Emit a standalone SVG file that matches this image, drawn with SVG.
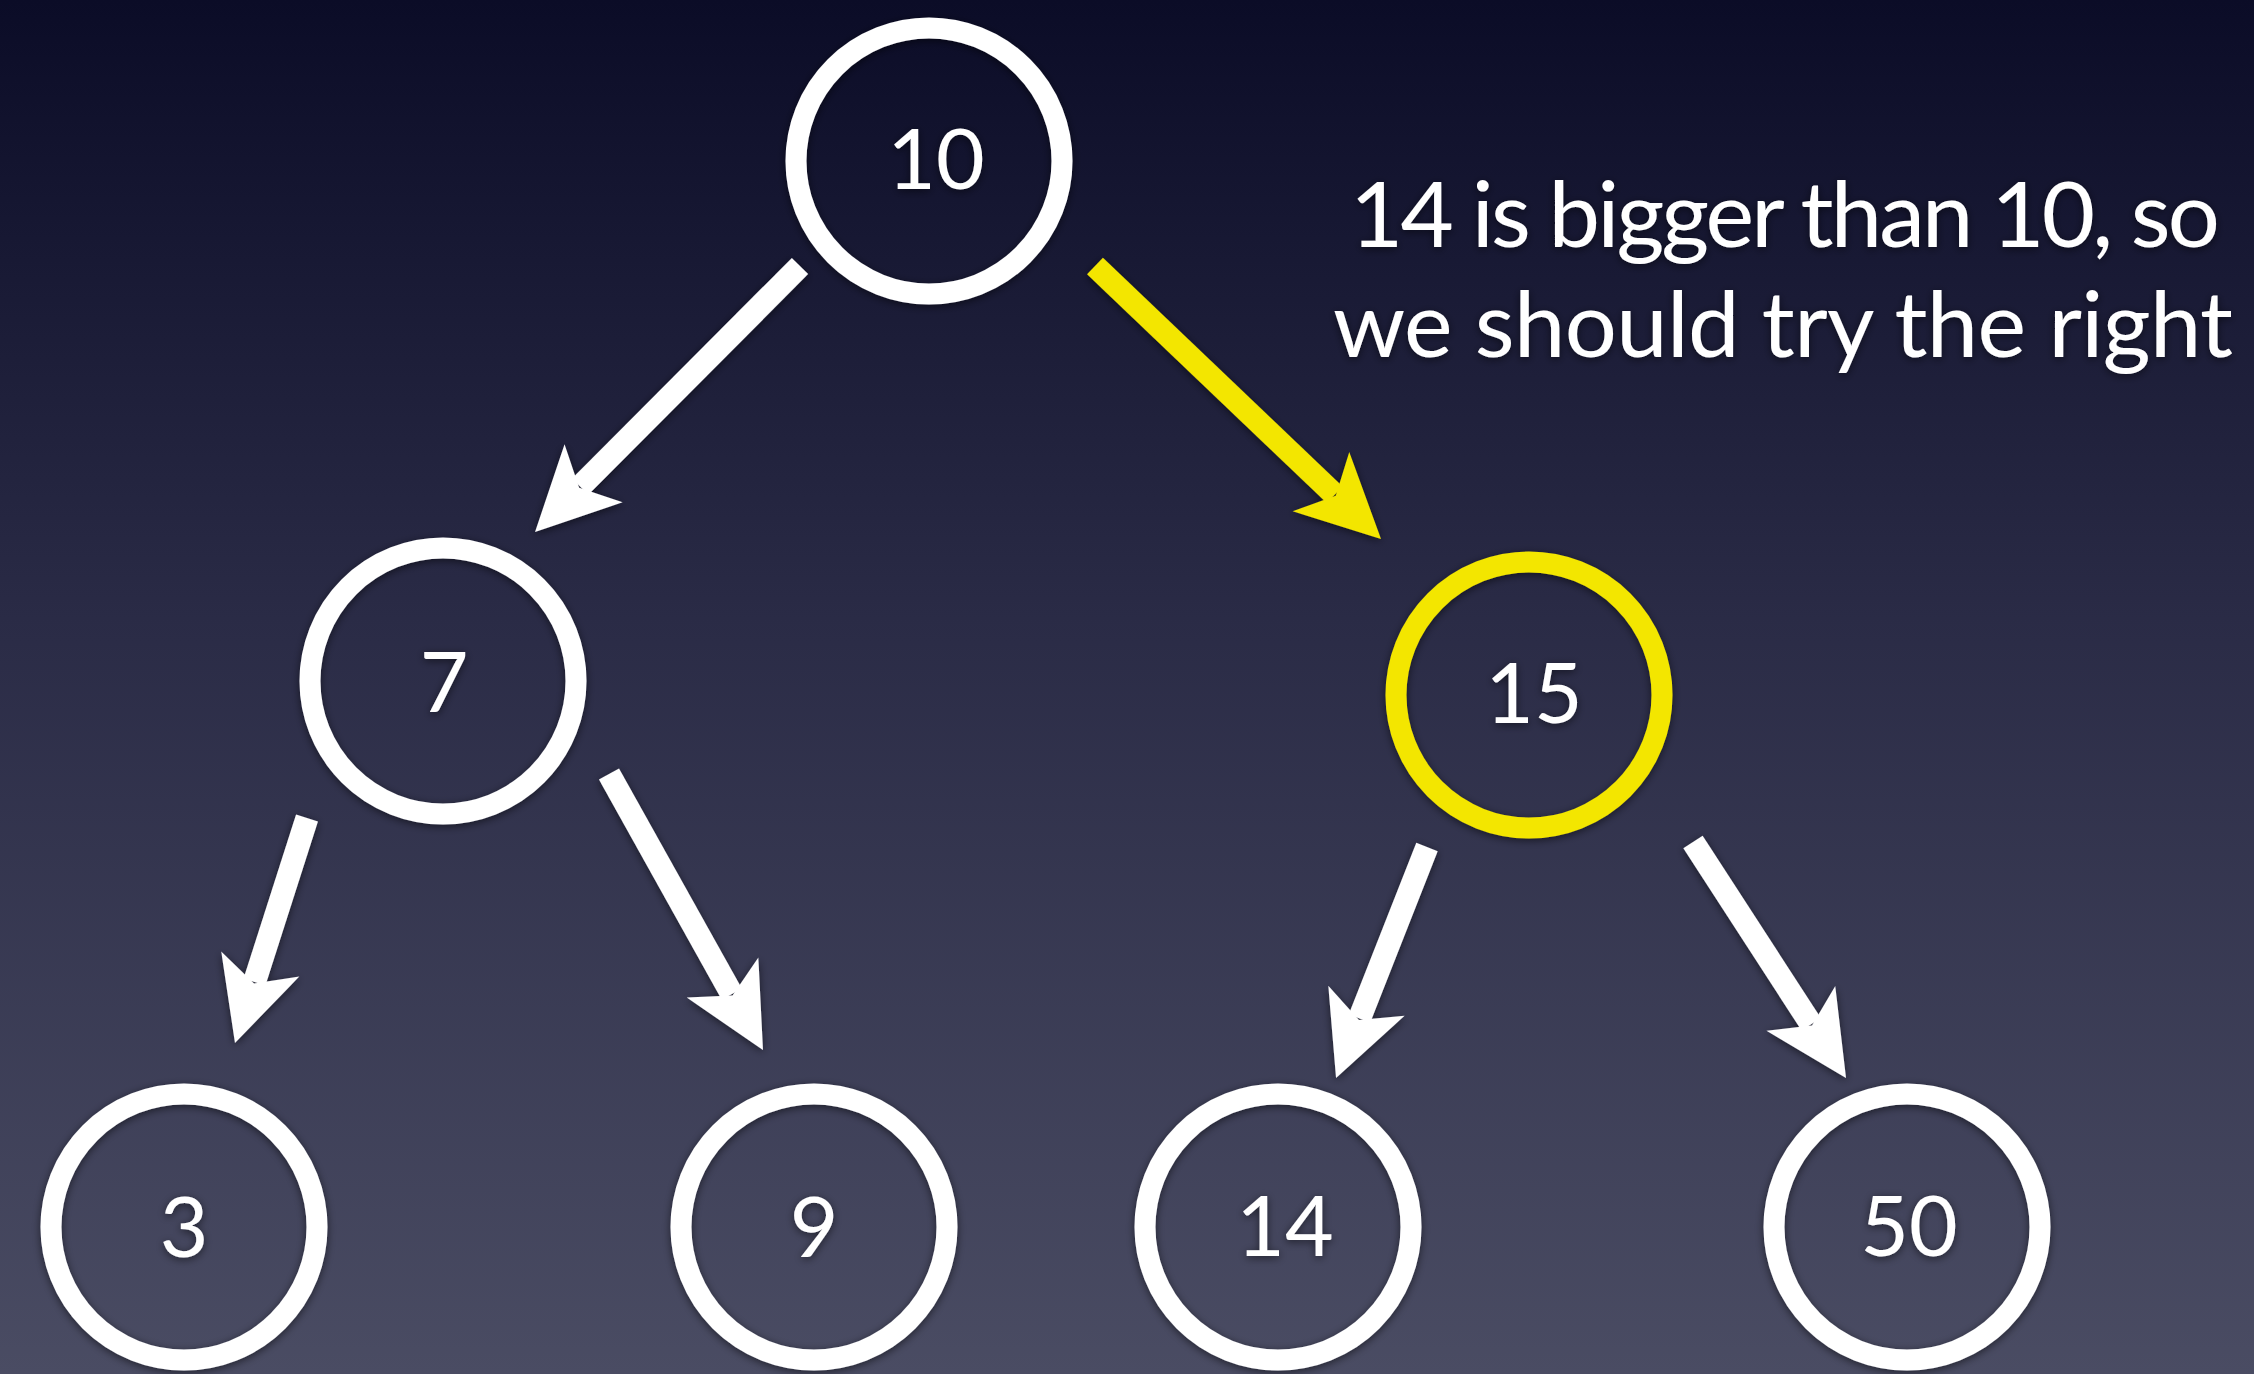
<svg xmlns="http://www.w3.org/2000/svg" width="2254" height="1374" viewBox="0 0 2254 1374">
  <defs>
    <linearGradient id="bg" x1="0" y1="0" x2="0" y2="1">
      <stop offset="0" stop-color="#0b0c27"/>
      <stop offset="0.45" stop-color="#2a2b46"/>
      <stop offset="1" stop-color="#4a4c63"/>
    </linearGradient>
    <filter id="shadow" x="-20%" y="-20%" width="140%" height="140%">
      <feDropShadow dx="0" dy="2" stdDeviation="4" flood-color="#000" flood-opacity="0.55"/>
    </filter>
    <marker id="head-white" markerUnits="userSpaceOnUse" orient="auto" viewBox="-20 -42 86 84" markerWidth="86" markerHeight="84" refX="0" refY="0">
      <path d="M64,0 L-19,41 L1.5,0 L-19,-41 Z" fill="#ffffff"/>
    </marker>
    <marker id="head-yellow" markerUnits="userSpaceOnUse" orient="auto" viewBox="-20 -42 86 84" markerWidth="86" markerHeight="84" refX="0" refY="0">
      <path d="M64,0 L-19,41 L1.5,0 L-19,-41 Z" fill="#f3e600"/>
    </marker>
  </defs>
  <style>
    .ring { fill: none; stroke: #ffffff; stroke-width: 21; }
    .ring.hot { stroke: #f3e600; }
    .label { font-family: Lato, "Open Sans", "Liberation Sans", sans-serif; font-size: 84px; fill: #ffffff; text-anchor: middle; }
    .edge { fill: none; stroke: #ffffff; stroke-width: 23; marker-end: url(#head-white); }
    .edge.hot { stroke: #f3e600; marker-end: url(#head-yellow); }
    .note { font-family: Lato, "Open Sans", "Liberation Sans", sans-serif; font-size: 92px; fill: #ffffff; }
  </style>

  <rect width="2254" height="1374" fill="url(#bg)"/>

  <!-- tree edges -->
  <g id="connectors" filter="url(#shadow)">
    <path class="edge" d="M800,266 L580.2,486.7"/>
    <path class="edge hot" d="M1095,266 L1334.7,494.8"/>
    <path class="edge" d="M307,818 L254.5,982"/>
    <path class="edge" d="M609,774 L731.8,994.1"/>
    <path class="edge" d="M1427,847 L1359.5,1018.5"/>
    <path class="edge" d="M1693,842 L1811.2,1024.3"/>
  </g>

  <!-- tree nodes -->
  <g id="node-10" filter="url(#shadow)">
    <circle class="ring" cx="929" cy="161" r="133"/>
    <text class="label" x="936" y="189">10</text>
  </g>
  <g id="node-7" filter="url(#shadow)">
    <circle class="ring" cx="443" cy="681" r="133"/>
    <text class="label" x="444" y="712">7</text>
  </g>
  <g id="node-15" filter="url(#shadow)">
    <circle class="ring hot" cx="1529" cy="695" r="133"/>
    <text class="label" x="1534" y="723">15</text>
  </g>
  <g id="node-3" filter="url(#shadow)">
    <circle class="ring" cx="184" cy="1227" r="133"/>
    <text class="label" x="184" y="1257">3</text>
  </g>
  <g id="node-9" filter="url(#shadow)">
    <circle class="ring" cx="814" cy="1227" r="133"/>
    <text class="label" x="814" y="1257">9</text>
  </g>
  <g id="node-14" filter="url(#shadow)">
    <circle class="ring" cx="1278" cy="1227" r="133"/>
    <text class="label" x="1285" y="1256">14</text>
  </g>
  <g id="node-50" filter="url(#shadow)">
    <circle class="ring" cx="1907" cy="1227" r="133"/>
    <text class="label" x="1909" y="1256">50</text>
  </g>

  <!-- explanation -->
  <g id="caption" filter="url(#shadow)">
    <text class="note" x="1350" y="247" textLength="870" lengthAdjust="spacing">14 is bigger than 10, so</text>
    <text class="note" x="1333" y="357" textLength="900" lengthAdjust="spacing">we should try the right</text>
  </g>
</svg>
